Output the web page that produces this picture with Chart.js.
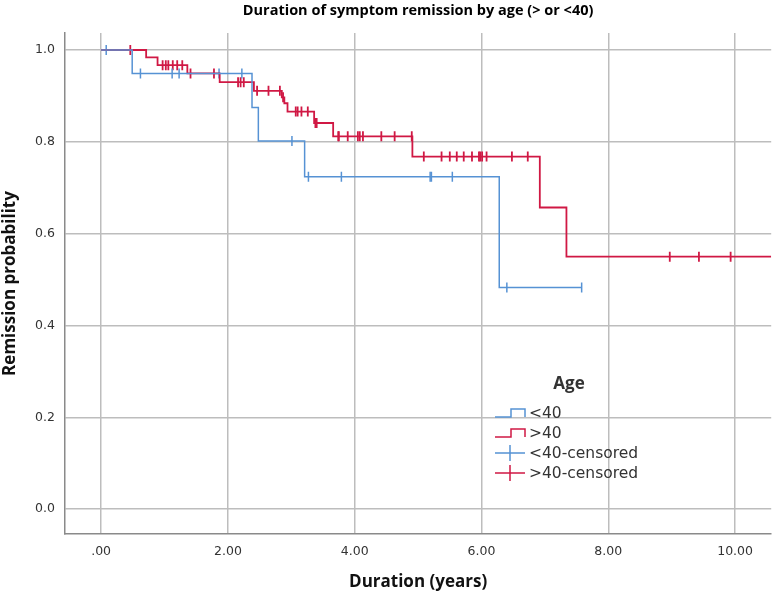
<!DOCTYPE html>
<html>
<head>
<meta charset="utf-8">
<script src="https://cdn.jsdelivr.net/npm/chart.js@4/dist/chart.umd.min.js"></script>
<style>
  html, body { margin: 0; padding: 0; background: #fff; }
  #wrap { width: 778px; height: 596px; }
</style>
</head>
<body>
<div id="wrap"><canvas id="chart" width="778" height="596"></canvas></div>
<script>
// Axis ticks and labels
const xTicks = [0, 2, 4, 6, 8, 10];
const xTickLabels = ['.00', '2.00', '4.00', '6.00', '8.00', '10.00'];
const yTicks = [0, 0.2, 0.4, 0.6, 0.8, 1.0];
const yTickLabels = ['0.0', '0.2', '0.4', '0.6', '0.8', '1.0'];

// <40 group: event times (years) and remission probability after each step
const under40Times = [0, 0.49, 2.38, 2.48, 3.21, 6.28, 7.58];
const under40Survival = [1.0, 0.949, 0.875, 0.802, 0.724, 0.483, 0.483];
const under40Censored = [0.08, 0.62, 1.12, 1.23, 1.86, 2.22, 3.01, 3.27, 3.79, 5.19, 5.21, 5.54, 6.40, 7.58];

// >40 group
const over40Times = [0, 0.71, 0.89, 1.36, 1.87, 2.41, 2.85, 2.89, 2.94, 3.36, 3.66, 4.91, 6.92, 7.34, 10.57];
const over40Survival = [1.0, 0.984, 0.967, 0.949, 0.930, 0.911, 0.897, 0.884, 0.866, 0.841, 0.812, 0.768, 0.657, 0.550, 0.550];
const over40Censored = [0.46, 0.97, 1.02, 1.06, 1.13, 1.20, 1.28, 1.41, 1.78, 2.16, 2.20, 2.25, 2.46, 2.64, 2.82,
    2.87, 3.07, 3.10, 3.16, 3.26, 3.38, 3.40, 3.74, 3.75, 3.89, 4.05, 4.08, 4.13, 4.42, 4.63, 4.90, 5.09, 5.37,
    5.50, 5.61, 5.72, 5.85, 5.96, 5.98, 6.01, 6.08, 6.48, 6.73, 8.97, 9.43, 9.93];

const BLUE = 'rgb(86, 146, 212)';
const RED = 'rgb(208, 24, 68)';
const TEXT = '#333333';

/**
 * Remission probability of a step curve at time t.
 */
function survivalAt(times, surv, t) {
    let value = surv[0];
    for (let i = 0; i < times.length; i++) {
        if (times[i] <= t) value = surv[i];
    }
    return value;
}

function toPoints(times, surv) {
    return times.map((t, i) => ({x: t, y: surv[i]}));
}

function censoredPoints(censored, times, surv) {
    return censored.map(t => ({x: t, y: survivalAt(times, surv, t)}));
}

/**
 * Draws the title and the SPSS style legend with step icons.
 */
const overlayPlugin = {
    id: 'overlay',
    afterDraw(chart) {
        const ctx = chart.ctx;
        const area = chart.chartArea;
        ctx.save();
        ctx.fillStyle = '#000';
        ctx.font = 'bold 14.5px "Open Sans"';
        ctx.textAlign = 'center';
        ctx.textBaseline = 'middle';
        ctx.fillText('Duration of symptom remission by age (> or <40)', (area.left + area.right) / 2, 11);

        // legend
        ctx.fillStyle = TEXT;
        ctx.font = 'bold 17px "Open Sans"';
        ctx.fillText('Age', 569, 384);
        const items = [
            {label: '<40', color: BLUE, step: true},
            {label: '>40', color: RED, step: true},
            {label: '<40-censored', color: BLUE, step: false},
            {label: '>40-censored', color: RED, step: false}
        ];
        const ys = [413, 433, 453, 473];
        ctx.font = '15.5px "DejaVu Sans"';
        ctx.textAlign = 'left';
        items.forEach((item, i) => {
            const y = ys[i];
            ctx.strokeStyle = item.color;
            ctx.lineWidth = 1.5;
            ctx.beginPath();
            if (item.step) {
                ctx.moveTo(495, y + 4);
                ctx.lineTo(511, y + 4);
                ctx.lineTo(511, y - 4);
                ctx.lineTo(525, y - 4);
                ctx.lineTo(525, y + 4);
            } else {
                ctx.moveTo(495, y);
                ctx.lineTo(525, y);
                ctx.moveTo(510, y - 8);
                ctx.lineTo(510, y + 8);
            }
            ctx.stroke();
            ctx.fillStyle = TEXT;
            ctx.fillText(item.label, 529, y + 1);
        });
        ctx.restore();
    }
};

document.addEventListener('DOMContentLoaded', function () {
    const ctx = document.getElementById('chart').getContext('2d');
    new Chart(ctx, {
        type: 'scatter',
        data: {
            datasets: [
                {
                    label: '<40',
                    data: toPoints(under40Times, under40Survival),
                    showLine: true,
                    stepped: 'before',
                    borderColor: BLUE,
                    borderWidth: 1.5,
                    pointRadius: 0
                },
                {
                    label: '>40',
                    data: toPoints(over40Times, over40Survival),
                    showLine: true,
                    stepped: 'before',
                    borderColor: RED,
                    borderWidth: 1.8,
                    pointRadius: 0
                },
                {
                    label: '<40-censored',
                    data: censoredPoints(under40Censored, under40Times, under40Survival),
                    pointStyle: 'line',
                    rotation: 90,
                    pointRadius: 5,
                    borderColor: BLUE,
                    borderWidth: 1.5
                },
                {
                    label: '>40-censored',
                    data: censoredPoints(over40Censored, over40Times, over40Survival),
                    pointStyle: 'line',
                    rotation: 90,
                    pointRadius: 5,
                    borderColor: RED,
                    borderWidth: 1.8
                }
            ]
        },
        options: {
            responsive: false,
            animation: false,
            layout: {padding: {top: 33, right: 2, left: 0, bottom: 0}},
            plugins: {
                legend: {display: false},
                tooltip: {enabled: false}
            },
            scales: {
                x: {
                    type: 'linear',
                    min: -0.57,
                    max: 10.57,
                    afterBuildTicks: scale => { scale.ticks = xTicks.map(v => ({value: v})); },
                    afterFit: scale => { scale.height = 62; },
                    grid: {color: '#bdbdbd', lineWidth: 1.5, drawTicks: false},
                    border: {color: '#8a8a8a', width: 1.5},
                    ticks: {
                        padding: 10,
                        color: TEXT,
                        font: {family: 'DejaVu Sans', size: 12.5},
                        callback: (value, index) => xTickLabels[index]
                    },
                    title: {
                        display: true,
                        text: 'Duration (years)',
                        color: '#111',
                        font: {family: 'Open Sans', size: 17, weight: 'bold'},
                        padding: {top: 8}
                    }
                },
                y: {
                    min: -0.054,
                    max: 1.037,
                    afterBuildTicks: scale => { scale.ticks = yTicks.map(v => ({value: v})); },
                    afterFit: scale => { scale.width = 65; },
                    grid: {color: '#bdbdbd', lineWidth: 1.5, drawTicks: false},
                    border: {color: '#8a8a8a', width: 1.5},
                    ticks: {
                        padding: 10,
                        color: TEXT,
                        font: {family: 'DejaVu Sans', size: 12.5},
                        callback: (value, index) => yTickLabels[index]
                    },
                    title: {
                        display: true,
                        text: 'Remission probability',
                        color: '#111',
                        font: {family: 'Open Sans', size: 17, weight: 'bold'},
                        padding: {top: 0, bottom: 0}
                    }
                }
            }
        },
        plugins: [overlayPlugin]
    });
});
</script>
</body>
</html>
